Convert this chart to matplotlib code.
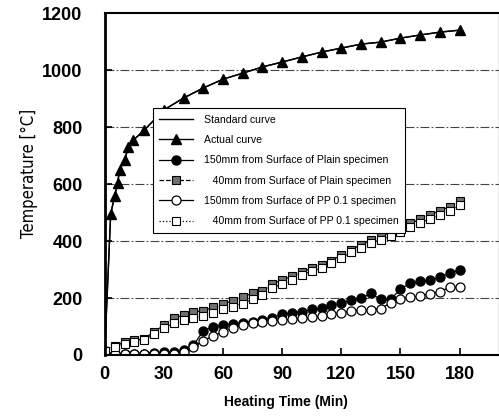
import matplotlib
matplotlib.use("Agg")
import matplotlib.pyplot as plt

plt.rcParams['font.family'] = ['Liberation Sans', 'DejaVu Sans']

# Actual furnace curve (triangles)
actual_time = [0, 3, 5, 6.5, 7.5, 10, 12, 14.5, 20, 30, 40, 50, 60, 70, 80,
               90, 100, 110, 120, 130, 140, 150, 160, 170, 180]
actual_temp = [20, 495, 558, 603, 649, 684, 730, 754, 789, 860, 902, 937, 968,
               989, 1011, 1028, 1046, 1063, 1077, 1091, 1098, 1112, 1123, 1133, 1140]

# Standard curve lies under the actual curve
standard_time = actual_time
standard_temp = actual_temp

time = list(range(0, 181, 5))

plain_150 = [5, 5, 5, 5, 5, 8, 10, 12, 18, 35, 85, 99, 105, 109, 113, 117, 123,
             129, 144, 148, 152, 160, 164, 174, 181, 193, 199, 216, 195, 195,
             231, 252, 258, 263, 273, 287, 298]
plain_40 = [15, 33, 47, 51, 57, 82, 104, 129, 141, 150, 156, 167, 179, 191, 203,
            218, 223, 249, 264, 276, 293, 304, 316, 331, 351, 370, 386, 404, 417,
            430, 445, 462, 476, 492, 506, 521, 541]
pp_150 = [5, 5, 5, 5, 5, 5, 5, 5, 10, 28, 50, 67, 82, 95, 105, 112, 117, 120,
          123, 125, 129, 132, 137, 144, 148, 155, 158, 158, 163, 183, 198, 202,
          207, 214, 222, 238, 238]
pp_40 = [15, 28, 40, 45, 52, 75, 95, 113, 122, 130, 138, 148, 160, 170, 180,
         197, 210, 235, 250, 262, 280, 295, 305, 322, 340, 360, 376, 392, 405,
         418, 432, 448, 462, 478, 492, 505, 525]

fig = plt.figure(figsize=(4.99, 4.17), dpi=100)
ax = fig.add_axes([0.21, 0.1487, 0.79, 0.820])

ax.plot(standard_time, standard_temp, color='black', lw=1, label='Standard curve')
ax.plot(actual_time, actual_temp, color='black', lw=1, marker='^', ms=7,
        label='Actual curve')
ax.plot(time, plain_150, color='black', lw=0.9, marker='o', ms=6.5,
        label='150mm from Surface of Plain specimen')
ax.plot(time, plain_40, color='black', lw=0.9, ls='--', marker='s', ms=6,
        mfc='#707070', mec='black', mew=0.8,
        label='   40mm from Surface of Plain specimen')
ax.plot(time, pp_150, color='black', lw=0.9, marker='o', ms=6.5, mfc='white',
        mec='black', mew=0.9, label='150mm from Surface of PP 0.1 specimen')
ax.plot(time, pp_40, color='black', lw=0.9, ls=':', marker='s', ms=6,
        mfc='white', mec='black', mew=0.8,
        label='   40mm from Surface of PP 0.1 specimen')

ax.set_xlim(0, 200)
ax.set_ylim(0, 1200)
ax.set_xticks([0, 30, 60, 90, 120, 150, 180])
ax.set_yticks([0, 200, 400, 600, 800, 1000, 1200])
ax.tick_params(axis='both', direction='in', length=5, width=1.2)
ax.tick_params(axis='y', pad=16, labelsize=13)
ax.tick_params(axis='x', pad=8, labelsize=13)
for lab in ax.get_xticklabels() + ax.get_yticklabels():
    lab.set_fontweight('bold')

for y in [200, 400, 600, 800, 1000]:
    ax.axhline(y, color='#444444', lw=0.8, ls=(0, (8, 2, 1.5, 2)), zorder=0)

ax.spines['left'].set_linewidth(2)
ax.spines['bottom'].set_linewidth(1.5)
ax.spines['top'].set_linewidth(1.5)
ax.spines['right'].set_linewidth(1)
ax.spines['right'].set_color('#999999')

ax.set_xlabel('Heating Time (Min)', fontsize=10, fontweight='bold', labelpad=4)
ax.xaxis.set_label_coords(0.46, -0.117)
ax.set_ylabel('Temperature [°C]', fontsize=12, fontstretch='condensed',
              family=['DejaVu Sans'])
ax.yaxis.set_label_coords(-0.17, 0.53)

leg = ax.legend(loc='upper left', bbox_to_anchor=(0.109, 0.737), fontsize=7.6,
                frameon=True, fancybox=False, edgecolor='black',
                framealpha=1, handlelength=3.2, labelspacing=0.98,
                borderpad=0.6, handletextpad=1.0)
leg.get_frame().set_linewidth(0.8)

fig.savefig('out.png', dpi=100)
